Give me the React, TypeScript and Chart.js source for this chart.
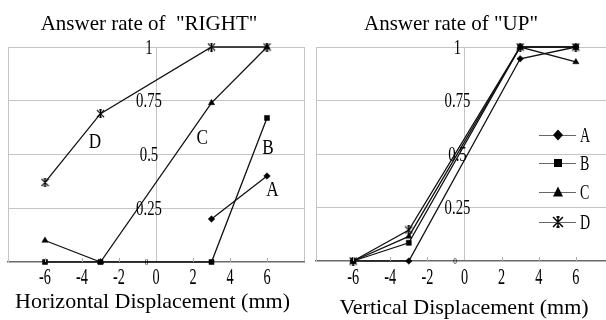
import React, { useEffect, useRef } from "react";
import { Chart, registerables } from "chart.js";
Chart.register(...registerables);

// ---------- data ----------
const xValues = [-6, -3, 3, 6];
const seriesNames = ["A", "B", "C", "D"];

// Answer rate of "RIGHT" (horizontal displacement)
const rightA: (number | null)[] = [null, null, 0.2, 0.4];
const rightB: (number | null)[] = [0, 0, 0, 0.67];
const rightC: (number | null)[] = [0.1, 0, 0.74, 1];
const rightD: (number | null)[] = [0.37, 0.69, 1, 1];

// Answer rate of "UP" (vertical displacement)
const upA: (number | null)[] = [0, 0, 0.945, 1];
const upB: (number | null)[] = [0, 0.085, 1, 1];
const upC: (number | null)[] = [0, 0.115, 1, 0.93];
const upD: (number | null)[] = [0, 0.145, 1, 1];

const xTickValues = [-6, -4, -2, 0, 2, 4, 6];
const xTickLabels = ["-6", "-4", "-2", "0", "2", "4", "6"];
const yTickValues = [0.25, 0.5, 0.75, 1];
const yTickLabels = ["0.25", "0.5", "0.75", "1"];
const yZeroLabel = "0";

const rightLabelNames = ["D", "C", "B", "A"];
const rightLabelX = [-3.3, 2.5, 6.05, 6.3];
const rightLabelY = [0.555, 0.575, 0.53, 0.335];

// ---------- drawing helpers ----------
const FONT = '"Liberation Serif", "Times New Roman", serif';
const GRID = "#c4c4c4";

function drawText(
  ctx: CanvasRenderingContext2D,
  text: string,
  x: number,
  y: number,
  size: number,
  sx = 1,
  align: CanvasTextAlign = "center",
  baseline: CanvasTextBaseline = "alphabetic"
) {
  ctx.save();
  ctx.font = `${size}px ${FONT}`;
  ctx.textAlign = align;
  ctx.textBaseline = baseline;
  ctx.fillStyle = "#000";
  ctx.translate(x, y);
  ctx.scale(sx, 1);
  ctx.fillText(text, 0, 0);
  ctx.restore();
}

function makeStar(size: number, lw: number) {
  const c = document.createElement("canvas");
  c.width = size;
  c.height = size;
  const g = c.getContext("2d")!;
  g.strokeStyle = "#000";
  g.lineWidth = lw;
  const m = lw / 2 + 0.3;
  const s = size;
  g.beginPath();
  g.moveTo(m, m);
  g.lineTo(s - m, s - m);
  g.moveTo(s - m, m);
  g.lineTo(m, s - m);
  g.moveTo(s / 2, 0);
  g.lineTo(s / 2, s);
  g.moveTo(s * 0.36, m);
  g.lineTo(s * 0.64, m);
  g.moveTo(s * 0.36, s - m);
  g.lineTo(s * 0.64, s - m);
  g.stroke();
  return c;
}

function drawLegendMarker(ctx: CanvasRenderingContext2D, i: number, x: number, y: number, star: HTMLCanvasElement) {
  ctx.save();
  ctx.fillStyle = "#000";
  ctx.beginPath();
  if (i === 0) {
    ctx.moveTo(x, y - 5.5);
    ctx.lineTo(x + 5, y);
    ctx.lineTo(x, y + 5.5);
    ctx.lineTo(x - 5, y);
    ctx.closePath();
    ctx.fill();
  } else if (i === 1) {
    ctx.fillRect(x - 4, y - 4, 8, 8);
  } else if (i === 2) {
    ctx.moveTo(x, y - 5.5);
    ctx.lineTo(x + 5, y + 4.5);
    ctx.lineTo(x - 5, y + 4.5);
    ctx.closePath();
    ctx.fill();
  } else {
    ctx.drawImage(star, x - star.width / 2, y - star.height / 2);
  }
  ctx.restore();
}

type PanelCfg = {
  series: (number | null)[][];
  title: string;
  xTitle: string;
  titlePos: [number, number];
  xTitlePos: [number, number];
  padding: { left: number; right: number; top: number; bottom: number };
  labels: boolean;
  legend: boolean;
  canvasLeft: number;
  canvasWidth: number;
};

const panels: PanelCfg[] = [
  {
    series: [rightA, rightB, rightC, rightD],
    title: 'Answer rate of  "RIGHT"',
    xTitle: "Horizontal Displacement (mm)",
    titlePos: [149, 29.5],
    xTitlePos: [152.5, 307.5],
    padding: { left: 8, right: 6, top: 47, bottom: 58 },
    labels: true,
    legend: false,
    canvasLeft: 0,
    canvasWidth: 310,
  },
  {
    series: [upA, upB, upC, upD],
    title: 'Answer rate of "UP"',
    xTitle: "Vertical Displacement (mm)",
    titlePos: [141, 30],
    xTitlePos: [154, 314],
    padding: { left: 6, right: 7, top: 47, bottom: 59 },
    labels: false,
    legend: true,
    canvasLeft: 310,
    canvasWidth: 310,
  },
];

const legendRowsY = [135, 163, 192, 222];

function PanelChart({ cfg }: { cfg: PanelCfg }) {
  const ref = useRef<HTMLCanvasElement | null>(null);
  useEffect(() => {
    if (!ref.current) return;
    const star = makeStar(9, 1.2);
    const legendStar = makeStar(12, 1.5);
    const styles: any[] = ["rectRot", "rect", "triangle", star];
    const radii = [3.3, 3.6, 3.6, 4.5];

    const datasets = cfg.series.map((vals, i) => ({
      label: seriesNames[i],
      data: xValues.map((x, j) => ({ x, y: vals[j] })),
      borderColor: "#111",
      backgroundColor: "#000",
      borderWidth: 1.3,
      pointStyle: styles[i],
      pointRadius: radii[i],
      pointBackgroundColor: "#000",
      pointBorderColor: "#000",
      pointBorderWidth: 0.5,
      tension: 0,
      spanGaps: false,
      clip: false as any,
    }));

    const extras = {
      id: "extras",
      afterDraw(chart: any) {
        const ctx: CanvasRenderingContext2D = chart.ctx;
        const xs = chart.scales.x;
        const ys = chart.scales.y;
        const ca = chart.chartArea;
        // small inner tick marks
        ctx.save();
        ctx.strokeStyle = "#aaa";
        ctx.lineWidth = 1;
        ctx.beginPath();
        xTickValues.forEach((v) => {
          if (v === 0) return;
          const px = Math.round(xs.getPixelForValue(v)) + 0.5;
          ctx.moveTo(px, ca.bottom);
          ctx.lineTo(px, ca.bottom - 4);
        });
        ctx.stroke();
        ctx.restore();

        const x0 = xs.getPixelForValue(0);
        // y tick labels
        yTickValues.forEach((v, i) => {
          drawText(ctx, yTickLabels[i], x0 - 7, ys.getPixelForValue(v) + 6.5, 20, 0.74);
        });
        drawText(ctx, yZeroLabel, x0 - 9.5, ys.getPixelForValue(0) + 3, 8, 0.9);
        // x tick labels
        xTickValues.forEach((v, i) => {
          drawText(ctx, xTickLabels[i], xs.getPixelForValue(v), 283.5, 23, 0.62);
        });
        // titles
        drawText(ctx, cfg.title, cfg.titlePos[0], cfg.titlePos[1], 21);
        drawText(ctx, cfg.xTitle, cfg.xTitlePos[0], cfg.xTitlePos[1], 22);
        // series labels
        if (cfg.labels) {
          rightLabelNames.forEach((t, i) => {
            drawText(ctx, t, xs.getPixelForValue(rightLabelX[i]), ys.getPixelForValue(rightLabelY[i]), 22, 0.78, "center", "middle");
          });
        }
        // legend
        if (cfg.legend) {
          seriesNames.forEach((name, i) => {
            const y = legendRowsY[i];
            ctx.save();
            ctx.strokeStyle = "#666";
            ctx.lineWidth = 1;
            ctx.beginPath();
            ctx.moveTo(229, y + 0.5);
            ctx.lineTo(266, y + 0.5);
            ctx.stroke();
            ctx.restore();
            drawLegendMarker(ctx, i, 248, y, legendStar);
            drawText(ctx, name, 270, y + 7, 20, 0.7, "left");
          });
        }
      },
    };

    const chart = new Chart(ref.current, {
      type: "line",
      data: { datasets },
      options: {
        animation: false,
        responsive: false,
        devicePixelRatio: 1,
        layout: { padding: cfg.padding },
        plugins: { legend: { display: false }, title: { display: false }, tooltip: { enabled: false } },
        scales: {
          x: {
            type: "linear",
            min: -8,
            max: 8,
            ticks: { display: false, stepSize: 2 },
            grid: {
              drawTicks: false,
              color: (c: any) => (c.tick && [-8, 0, 8].includes(c.tick.value) ? GRID : "rgba(0,0,0,0)"),
              lineWidth: 1,
            },
            border: { display: true, color: "#6a6a6a", width: 1.5 },
          },
          y: {
            type: "linear",
            min: 0,
            max: 1,
            ticks: { display: false, stepSize: 0.25 },
            grid: {
              drawTicks: false,
              color: (c: any) => (c.tick && c.tick.value === 0 ? "rgba(0,0,0,0)" : GRID),
              lineWidth: 1,
            },
            border: { display: true, color: GRID, width: 1 },
          },
        },
      },
      plugins: [extras],
    } as any);
    return () => chart.destroy();
  }, [cfg]);
  return (
    <canvas
      ref={ref}
      width={cfg.canvasWidth}
      height={320}
      style={{ position: "absolute", left: cfg.canvasLeft, top: 0, width: cfg.canvasWidth, height: 320, display: "block" }}
    />
  );
}

export default function App() {
  return (
    <div
      style={{
        position: "fixed",
        left: 0,
        top: 0,
        width: 606,
        height: 320,
        overflow: "hidden",
        background: "#fff",
      }}
    >
      {panels.map((p, i) => (
        <PanelChart key={i} cfg={p} />
      ))}
    </div>
  );
}
